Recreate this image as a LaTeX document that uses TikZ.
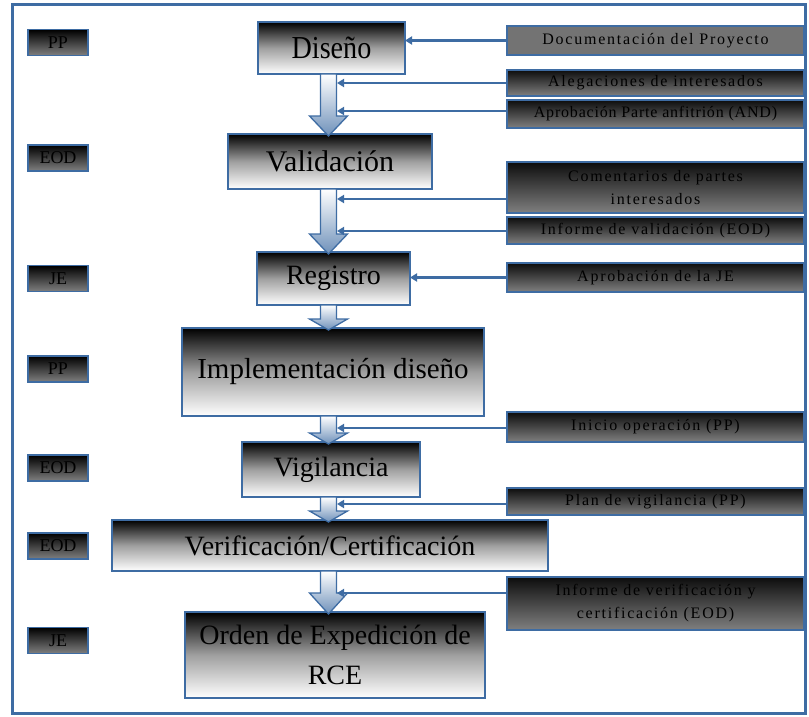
\documentclass[tikz,border=0pt]{standalone}
\usepackage{fontspec}
\setmainfont{Liberation Serif}
\newfontfamily\spc[LetterSpace=11]{Liberation Serif}
\newfontfamily\spcb[LetterSpace=5]{Liberation Serif}
\newfontfamily\cond[FakeStretch=0.88]{Liberation Serif}
\usetikzlibrary{arrows.meta,calc}
\definecolor{myblue}{RGB}{62,108,163}
\tikzset{
  mainbox/.style={draw=myblue, line width=1.8pt, inner sep=0pt, outer sep=0pt,
    top color=black, bottom color=white, middle color=gray!75,
    font=\fontsize{28}{40}\selectfont, align=center, text=black},
  sidebox/.style={draw=myblue, line width=1.8pt, inner sep=0pt, outer sep=0pt,
    minimum width=297pt, top color=black!95, bottom color=black!50,
    font=\spc\fontsize{16}{23}\selectfont, align=center, text=black},
  docbox/.style={sidebox, top color=gray!90!black, bottom color=gray!90!black},
  rolebox/.style={draw=myblue, line width=1.8pt, inner sep=0pt, outer sep=0pt,
    minimum width=60pt, minimum height=26pt, top color=black, bottom color=black!50,
    font=\fontsize{18}{20}\selectfont, text=black},
  feed/.style={draw=myblue, line width=2.4pt, -{Triangle[length=7pt,width=8pt]}},
  bigarr/.style={draw=myblue, line width=1.3pt, top color=white, bottom color=myblue!75, line join=miter}
}
\newcommand\bigarrow[3]{%
  \path[bigarr] let \p1=(#1.south), \p2=(#2.north) in
    (320.5pt,\y1) -- (336.5pt,\y1) -- (336.5pt,\y2+#3pt) -- (347.5pt,\y2+#3pt)
    -- (328.5pt,\y2-2pt) -- (309.5pt,\y2+#3pt) -- (320.5pt,\y2+#3pt) -- cycle;}
\begin{document}
\begin{tikzpicture}[x=1pt,y=-1pt]
\useasboundingbox (0,0) rectangle (809,717);
\fill[white] (0,0) rectangle (809,717);
\draw[myblue, line width=3pt] (12,5) rectangle (805,713);

% role boxes
\node[rolebox] (r1) at (58,42.5) {PP};
\node[rolebox] (r2) at (58,158) {EOD};
\node[rolebox] (r3) at (58,278.5) {JE};
\node[rolebox] (r4) at (58,369) {PP};
\node[rolebox] (r5) at (58,468) {EOD};
\node[rolebox] (r6) at (58,546) {EOD};
\node[rolebox] (r7) at (58,640.5) {JE};

% main boxes
\node[mainbox, minimum width=147pt, minimum height=52pt, font=\cond\fontsize{32}{36}\selectfont] (dis) at (331.5,48) {Diseño};
\node[mainbox, minimum width=204pt, minimum height=55pt, font=\fontsize{30}{36}\selectfont] (val) at (330,161.5) {Validación};
\node[mainbox, minimum width=153pt, minimum height=53pt] (reg) at (333.5,278.5) {Registro};
\node[mainbox, minimum width=302pt, minimum height=88pt, font=\fontsize{29}{36}\selectfont] (imp) at (333,372) {Implementación diseño};
\node[mainbox, minimum width=178pt, minimum height=55pt] (vig) at (331,469.5) {Vigilancia};
\node[mainbox, minimum width=436pt, minimum height=51pt] (ver) at (330,545.5) {Verificación/Certificación};
\node[mainbox, minimum width=300pt, minimum height=86pt] (ord) at (335,655) {Orden de Expedición de\\RCE};

% side boxes
\node[docbox, minimum height=29pt] (s1) at (655.5,40.5) {Documentación del Proyecto};
\node[sidebox, minimum height=26pt] (s2) at (655.5,83) {Alegaciones de interesados};
\node[sidebox, minimum height=28pt, font=\spcb\fontsize{16}{23}\selectfont] (s3) at (655.5,114) {Aprobación Parte anfitrión (AND)};
\node[sidebox, minimum height=51pt] (s4) at (655.5,187.5) {Comentarios de partes\\interesados};
\node[sidebox, minimum height=27pt] (s5) at (655.5,230.5) {Informe de validación (EOD)};
\node[sidebox, minimum height=29pt] (s6) at (655.5,277.5) {Aprobación de la JE};
\node[sidebox, minimum height=30pt] (s7) at (655.5,427) {Inicio operación (PP)};
\node[sidebox, minimum height=27pt] (s8) at (655.5,501.5) {Plan de vigilancia (PP)};
\node[sidebox, minimum height=53pt] (s9) at (655.5,603.5) {Informe de verificación y\\certificación (EOD)};

% big arrows
\bigarrow{dis}{val}{18}
\bigarrow{val}{reg}{18}
\bigarrow{reg}{imp}{9}
\bigarrow{imp}{vig}{9}
\bigarrow{vig}{ver}{9}
\bigarrow{ver}{ord}{19}

% feed coordinates on the arrow shaft
\coordinate (f2) at (337,83);
\coordinate (f3) at (337,111);
\coordinate (f4) at (337,199);
\coordinate (f5) at (337,231);
\coordinate (f7) at (337,428);
\coordinate (f8) at (337,504);
\coordinate (f9) at (337,593);

\draw[feed] (s1.west) -- (s1.west -| dis.east);
\draw[feed] (f2 -| s2.west) -- (f2);
\draw[feed] (f3 -| s3.west) -- (f3);
\draw[feed] (f4 -| s4.west) -- (f4);
\draw[feed] (f5 -| s5.west) -- (f5);
\draw[feed] (s6.west) -- (s6.west -| reg.east);
\draw[feed] (f7 -| s7.west) -- (f7);
\draw[feed] (f8 -| s8.west) -- (f8);
\draw[feed] (f9 -| s9.west) -- (f9);
\end{tikzpicture}
\end{document}
